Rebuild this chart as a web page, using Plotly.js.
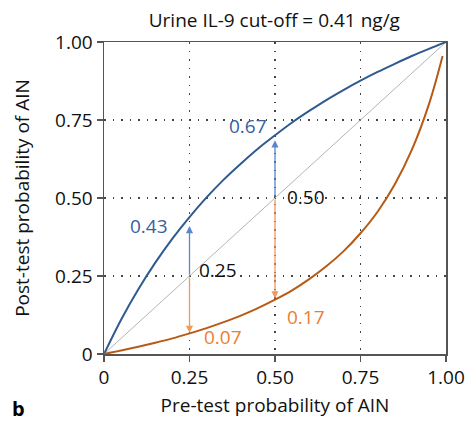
<!DOCTYPE html>
<html><head><meta charset="utf-8">
<script src="https://cdn.plot.ly/plotly-3.0.1.min.js"></script>
<style>html,body{margin:0;padding:0;background:#fff}#c{width:465px;height:425px}</style>
</head><body><div id="c"></div>
<script>
const preTest = [0,0.05,0.10,0.15,0.20,0.25,0.30,0.35,0.40,0.45,0.50,0.55,0.60,0.65,0.70,0.75,0.80,0.85,0.90,0.95,1.00];
const postPositive = [0,0.110,0.207,0.293,0.370,0.439,0.502,0.559,0.610,0.658,0.701,0.742,0.779,0.814,0.846,0.876,0.904,0.930,0.955,0.978,1.00];
const preTestNeg = [0,0.05,0.10,0.15,0.20,0.25,0.30,0.35,0.40,0.45,0.50,0.55,0.60,0.65,0.70,0.75,0.80,0.85,0.90,0.95,0.99];
const postNegative = [0,0.011,0.023,0.036,0.050,0.066,0.083,0.102,0.123,0.147,0.174,0.204,0.240,0.281,0.329,0.387,0.456,0.543,0.654,0.800,0.955];
const diagX = [0,1];
const diagY = [0,1];
const tickVals = [0,0.25,0.5,0.75,1];
const tickText = ["0","0.25","0.50","0.75","1.00"];
// arrows: [pre-test, post-test]
const arrowsUp = [[0.25,0.41],[0.5,0.685]];
const arrowsDown = [[0.25,0.068],[0.5,0.178]];
const labelsBlue = [{x:0.132,y:0.41,t:"0.43"},{x:0.42,y:0.73,t:"0.67"}];
const labelsBlack = [{x:0.332,y:0.268,t:"0.25"},{x:0.59,y:0.503,t:"0.50"}];
const labelsOrange = [{x:0.347,y:0.055,t:"0.07"},{x:0.59,y:0.12,t:"0.17"}];

const font = "Open Sans, Noto Sans, sans-serif";
const FS = 19;
const traces = [
  {x:diagX,y:diagY,mode:'lines',line:{color:'#b4b4b4',width:1},hoverinfo:'skip'},
  {x:preTest,y:postPositive,mode:'lines',line:{color:'#2f5a8f',width:2,shape:'spline'}},
  {x:preTestNeg,y:postNegative,mode:'lines',line:{color:'#b65a16',width:2,shape:'spline'}}
];
const ann = [];
arrowsUp.forEach(a=>ann.push({x:a[0],y:a[1],ax:a[0],ay:a[0],axref:'x',ayref:'y',xref:'x',yref:'y',showarrow:true,arrowhead:2,arrowsize:1.1,arrowwidth:1.3,arrowcolor:'#5a86d0',text:''}));
arrowsDown.forEach(a=>ann.push({x:a[0],y:a[1],ax:a[0],ay:a[0],axref:'x',ayref:'y',xref:'x',yref:'y',showarrow:true,arrowhead:2,arrowsize:1.1,arrowwidth:1.3,arrowcolor:'#f2995c',text:''}));
labelsBlue.forEach(l=>ann.push({x:l.x,y:l.y,text:l.t,showarrow:false,font:{family:font,size:FS,color:'#3561a0'}}));
labelsBlack.forEach(l=>ann.push({x:l.x,y:l.y,text:l.t,showarrow:false,font:{family:font,size:FS,color:'#111'}}));
labelsOrange.forEach(l=>ann.push({x:l.x,y:l.y,text:l.t,showarrow:false,font:{family:font,size:FS,color:'#ed7d31'}}));
ann.push({xref:'paper',yref:'paper',x:-0.25,y:-0.175,xanchor:'center',yanchor:'middle',text:'<b>b</b>',showarrow:false,font:{family:font,size:20,color:'#000'}});

const axisCommon = {range:[0,1],tickvals:tickVals,ticktext:tickText,ticks:'outside',ticklen:6,tickwidth:1.3,tickcolor:'#555',
  showline:true,linecolor:'#555',linewidth:1.5,mirror:true,showgrid:true,gridcolor:'#444',gridwidth:1.3,griddash:'1.5px,7px',
  zeroline:false,ticklabeloverflow:'allow',tickfont:{family:font,size:FS,color:'#111'},fixedrange:true};
const layout = {
  width:465,height:425,margin:{l:104,r:19,t:42,b:71},paper_bgcolor:'#fff',plot_bgcolor:'#fff',showlegend:false,
  title:{text:'Urine IL-9 cut-off = 0.41 ng/g',x:0.59,xanchor:'center',y:0.953,yanchor:'middle',font:{family:font,size:FS,color:'#111'}},
  xaxis:Object.assign({},axisCommon,{title:{text:'Pre-test probability of AIN',standoff:9,font:{family:font,size:FS,color:'#111'}}}),
  yaxis:Object.assign({},axisCommon,{title:{text:'Post-test probability of AIN',standoff:20,font:{family:font,size:FS,color:'#111'}}}),
  annotations:ann
};
Plotly.newPlot('c',traces,layout,{displayModeBar:false,staticPlot:true});
</script></body></html>
